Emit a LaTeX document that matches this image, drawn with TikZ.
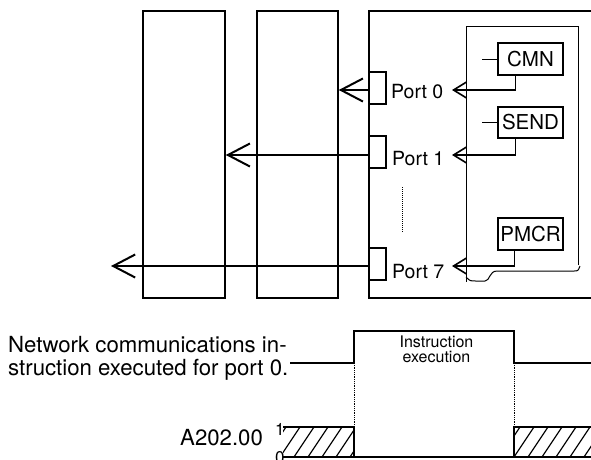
\documentclass[tikz,border=0pt]{standalone}
\usepackage{fontspec}
\setmainfont{TeX Gyre Heros}
\usetikzlibrary{arrows.meta,calc}
\begin{document}
\begin{tikzpicture}[x=1pt,y=-1pt,
  bigarrow/.style={line width=2pt,-{Straight Barb[length=22pt,width=23pt,line width=2pt]}},
  smallarrow/.style={line width=1.6pt,-{Straight Barb[length=13pt,width=16pt,line width=1.6pt]}},
  unit/.style={draw,line width=1.5pt,minimum width=82pt,minimum height=287pt,inner sep=0pt},
  portbox/.style={draw,line width=1.2pt,minimum width=17pt,minimum height=32pt,inner sep=0pt},
  instr/.style={draw,line width=1.4pt,minimum width=65pt,minimum height=32pt,inner sep=0pt,
    font=\fontsize{20.5}{22}\selectfont},
  portlbl/.style={anchor=base west,inner sep=0pt,font=\fontsize{19.5}{21}\selectfont},
  txt/.style={anchor=base west,inner sep=0pt,font=\fontsize{22.2}{23}\selectfont},
  lvl/.style={anchor=base west,inner sep=0pt,font=\fontsize{17}{18}\selectfont}]
  \useasboundingbox (0,0) rectangle (591,459);
  \node[unit] (boxA) at (184,154.5) {};
  \node[unit, minimum width=81pt] (boxB) at (297.5,154.5) {};
  \draw[line width=1.5pt] (591,11) -- (369,11) -- (369,298) -- (591,298);
  \node[portbox] (p0) at (377.5,88) {};
  \node[portbox] (p1) at (377.5,152) {};
  \node[portbox] (p7) at (377.5,264) {};
  \node[portlbl] (l0) at (391,98) {Port 0};
  \node[portlbl] (l1) at (392,165) {Port 1};
  \node[portlbl] (l7) at (392,278) {Port 7};
  \draw[line width=1pt, densely dotted] (402,187) -- (402,233);
  \draw[line width=1pt] (578,265) -- (578,26) -- (466,26) -- (466,282);
  \draw[line width=1pt] (466,277) .. controls (470,281) .. (476,281) -- (485,281)
    .. controls (490,281) and (489,271) .. (497,271) -- (574,271) .. controls (578,271) .. (580,266);
  \node[instr] (cmn) at (530.5,59) {CMN};
  \node[instr, minimum height=31pt] (send) at (530.5,122.5) {SEND};
  \node[instr] (pmcr) at (530.5,234) {PMCR};
  \coordinate (t0) at (452,90);
  \coordinate (t1) at (452,155);
  \coordinate (t7) at (452,266);
  \coordinate (far) at (111,266);
  \draw[line width=1pt] (cmn.west) -- ++(-15,0);
  \draw[line width=1pt] (send.west) -- ++(-15,0);
  \draw[smallarrow] ([xshift=-15pt]cmn.south) |- (t0);
  \draw[smallarrow] ([xshift=-15pt]send.south) |- (t1);
  \draw[smallarrow] ([xshift=-16pt]pmcr.south) |- (t7);
  \draw[bigarrow] (p0.west |- t0) -- (boxB.east |- t0);
  \draw[bigarrow] (p1.west |- t1) -- (boxA.east |- t1);
  \draw[bigarrow] (p7.west |- t7) -- (far);
  \node[txt] (net1) at (8,352) {Network communications in-};
  \node[txt] (net2) at (8,375) {struction executed for port 0.};
  \draw[line width=1.4pt] (290,363) -- (354,363) -- (354,331) -- (514,331) -- (514,363) -- (591,363);
  \node[align=center, inner sep=0pt, anchor=base, font=\fontsize{16}{15}\selectfont] (exec)
    at (436.5,362) {Instruction\\execution};
  \draw[line width=0.8pt, densely dotted] (354,363) -- (354,427);
  \draw[line width=0.8pt, densely dotted] (514,363) -- (514,427);
  \node[txt] (a202) at (180,445) {A202.00};
  \node[lvl] (one) at (275,435) {1};
  \node[lvl] (zero) at (275,463) {0};
  \draw[line width=1.4pt] (283,427) -- (354,427) -- (354,457);
  \draw[line width=1.4pt] (514,457) -- (514,427) -- (591,427);
  \draw[line width=1.4pt] (283,457) -- (591,457);
  \begin{scope}
    \clip (283,427) rectangle (354,457);
    \foreach \hx in {266,280,...,360} \draw[line width=1.2pt] (\hx,457) -- ++(20,-30);
  \end{scope}
  \begin{scope}
    \clip (514,427) rectangle (591,457);
    \foreach \hx in {500,514,...,600} \draw[line width=1.2pt] (\hx,457) -- ++(20,-30);
  \end{scope}
\end{tikzpicture}
\end{document}
